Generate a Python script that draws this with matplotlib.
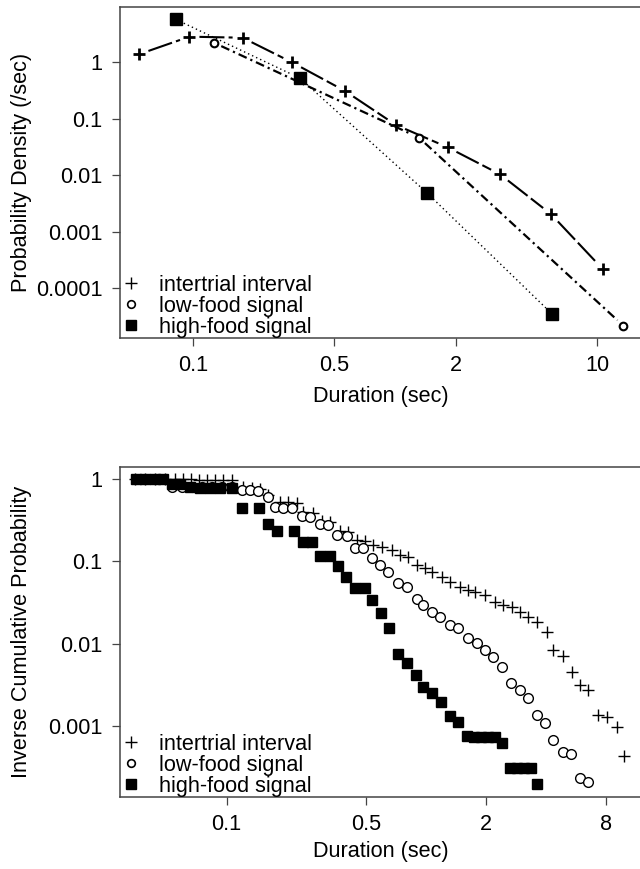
import matplotlib
matplotlib.use("Agg")
import matplotlib.pyplot as plt
from matplotlib.lines import Line2D
from matplotlib.ticker import FixedLocator, FixedFormatter, NullLocator
import numpy as np

plt.rcParams['font.family'] = ['Liberation Sans', 'DejaVu Sans']
FS = 15.6

# ---- top panel: probability density (binned) ----
iti_dur = [0.054, 0.096, 0.176, 0.31, 0.565, 1.01, 1.82, 3.31, 5.92, 10.7]
iti_dens = [1.40, 2.87, 2.75, 1.0, 0.313, 0.078, 0.0314, 0.0104, 0.00204, 0.000215]
low_dur = [0.127, 1.315, 13.5]
low_dens = [2.24, 0.0464, 2.15e-5]
high_dur = [0.082, 0.339, 1.436, 6.01]
high_dens = [5.83, 0.525, 0.00491, 3.43e-5]

# ---- bottom panel: inverse cumulative probability ----
iti_x = [0.0347, 0.0389, 0.0436, 0.0489, 0.0549, 0.0603, 0.0660, 0.0726, 0.0796, 0.0873, 0.0958, 0.1063,
         0.1207, 0.134, 0.147, 0.161, 0.185, 0.203, 0.225, 0.241, 0.271, 0.301, 0.330, 0.370, 0.406,
         0.451, 0.494, 0.542, 0.601, 0.675, 0.741, 0.812, 0.901, 0.989, 1.072, 1.203, 1.320, 1.482,
         1.624, 1.761, 1.976, 2.218, 2.432, 2.703, 2.963, 3.249, 3.603, 4.045, 4.334, 4.864, 5.403,
         5.924, 6.496, 7.290, 8.091, 9.079, 9.86]
iti_y = [1.0, 0.998, 0.996, 0.994, 0.992, 0.99, 0.988, 0.986, 0.984, 0.982, 0.98, 0.978,
         0.800, 0.778, 0.756, 0.640, 0.53, 0.52, 0.512, 0.398, 0.387, 0.310, 0.301, 0.234, 0.228,
         0.182, 0.177, 0.158, 0.150, 0.138, 0.120, 0.113, 0.0907, 0.0834, 0.0746, 0.0649, 0.0565, 0.0491,
         0.0451, 0.0427, 0.0393, 0.0323, 0.0297, 0.0281, 0.0244, 0.0212, 0.0185, 0.0140, 0.00846, 0.00716, 0.00458,
         0.00319, 0.00277, 0.00136, 0.00132, 0.000986, 0.000439]

low_x = [0.0367, 0.0412, 0.0463, 0.0532, 0.0597, 0.067, 0.0752, 0.0843, 0.0946, 0.1063,
         0.1193, 0.131, 0.1436, 0.161, 0.1747, 0.1915, 0.2127, 0.2387, 0.2618, 0.294, 0.3223,
         0.3577, 0.4015, 0.4402, 0.4831, 0.5358, 0.5875, 0.6445, 0.7231, 0.8031, 0.9012, 0.966,
         1.072, 1.175, 1.320, 1.448, 1.624, 1.803, 1.976, 2.168, 2.405, 2.672, 2.963, 3.249,
         3.603, 3.954, 4.334, 4.864, 5.341, 5.924, 6.496]
low_y = [0.999, 0.997, 0.995, 0.81, 0.808, 0.806, 0.804, 0.802, 0.80, 0.798,
         0.736, 0.73, 0.715, 0.605, 0.458, 0.45, 0.44, 0.356, 0.35, 0.285, 0.277,
         0.210, 0.204, 0.146, 0.144, 0.110, 0.0907, 0.0746, 0.0549, 0.0491, 0.0351, 0.0297,
         0.0244, 0.0212, 0.0170, 0.0156, 0.0118, 0.0103, 0.00846, 0.00696, 0.00526, 0.00337, 0.00277, 0.00221,
         0.00138, 0.00110, 0.000686, 0.000491, 0.000465, 0.000238, 0.000212]

high_x = [0.0351, 0.0389, 0.0436, 0.0479, 0.0532, 0.0582, 0.0654, 0.0734, 0.0824, 0.0925, 0.1063,
          0.1193, 0.1452, 0.161, 0.179, 0.218, 0.241, 0.268, 0.294, 0.330, 0.362, 0.397, 0.440,
          0.494, 0.536, 0.594, 0.652, 0.723, 0.803, 0.891, 0.966, 1.072, 1.190, 1.320, 1.448,
          1.606, 1.741, 1.887, 2.046, 2.218, 2.405, 2.640, 2.861, 3.101, 3.362, 3.603]
high_y = [1.0, 0.999, 0.998, 0.997, 0.87, 0.869, 0.789, 0.788, 0.787, 0.786, 0.785,
          0.445, 0.444, 0.285, 0.234, 0.233, 0.172, 0.171, 0.117, 0.116, 0.0884, 0.0649, 0.0477,
          0.0476, 0.0341, 0.0238, 0.0156, 0.00758, 0.00589, 0.00421, 0.00302, 0.00256, 0.00200, 0.00134, 0.00114,
          0.000766, 0.000747, 0.000747, 0.000747, 0.000747, 0.000631, 0.000316, 0.000316, 0.000316, 0.000316, 0.000203]

labels = ["intertrial interval", "low-food signal", "high-food signal"]

W, H = 640, 869
fig = plt.figure(figsize=(W / 100, H / 100), dpi=100)


def add_ax(left, top, right, bottom):
    return fig.add_axes([left / W, 1 - bottom / H, (right - left) / W, (bottom - top) / H])


def style(ax, xlim, ylim, xt, xtl, yt, ytl, ylabel, xlab_y):
    ax.set_xscale('log')
    ax.set_yscale('log')
    ax.set_xlim(*xlim)
    ax.set_ylim(*ylim)
    ax.xaxis.set_major_locator(FixedLocator(xt))
    ax.xaxis.set_major_formatter(FixedFormatter(xtl))
    ax.yaxis.set_major_locator(FixedLocator(yt))
    ax.yaxis.set_major_formatter(FixedFormatter(ytl))
    ax.xaxis.set_minor_locator(NullLocator())
    ax.yaxis.set_minor_locator(NullLocator())
    ax.tick_params(length=5.5, width=0.9, color='#444444', labelsize=FS, pad=7)
    for s in ['left', 'bottom', 'top']:
        ax.spines[s].set_linewidth(1.1)
        ax.spines[s].set_color('#444444')
    ax.spines['right'].set_visible(False)
    ax.set_xlabel("Duration (sec)", fontsize=FS)
    ax.set_ylabel(ylabel, fontsize=FS)
    ax.yaxis.set_label_coords(-0.1686, 0.5)
    ax.xaxis.set_label_coords(0.5, xlab_y)


def gapped(ax, xs, ys, gap, **kw):
    # lines that stop short of the points, as in R type="b"
    pts = ax.transData.transform(np.column_stack([xs, ys]))
    inv = ax.transData.inverted()
    for p0, p1 in zip(pts[:-1], pts[1:]):
        d = p1 - p0
        L = np.hypot(*d)
        if L <= 2 * gap:
            continue
        u = d / L
        seg = inv.transform([p0 + u * gap, p1 - u * gap])
        ax.plot(seg[:, 0], seg[:, 1], color='black', **kw)


def legend(ax):
    h = [Line2D([], [], ls='none', marker='+', ms=9, mew=1.0, color='k'),
         Line2D([], [], ls='none', marker='o', ms=5.5, mfc='white', mec='k', mew=1.2),
         Line2D([], [], ls='none', marker='s', ms=7, color='k')]
    ax.legend(h, labels, loc='lower left', bbox_to_anchor=(0, 0), frameon=False, fontsize=FS,
              handlelength=1.0, handletextpad=0.8, labelspacing=0.0, borderpad=0, borderaxespad=0)


ax1 = add_ax(120, 7, 642, 338)
style(ax1, (0.0435, 16.7), (1.30e-5, 9.64), [0.1, 0.5, 2, 10], ["0.1", "0.5", "2", "10"],
      [1, 0.1, 0.01, 0.001, 0.0001], ["1", "0.1", "0.01", "0.001", "0.0001"],
      "Probability Density (/sec)", -0.145)

gapped(ax1, iti_dur, iti_dens, 10, lw=1.5, dashes=(12, 2))
gapped(ax1, low_dur, low_dens, 8, lw=1.6, dashes=(4, 1.8, 1, 1.8))
gapped(ax1, high_dur, high_dens, 9, lw=1.0, dashes=(1, 2.2))
ax1.plot(iti_dur, iti_dens, ls='none', marker='+', ms=8.5, mew=2.0, color='k')
ax1.plot(low_dur, low_dens, ls='none', marker='o', ms=5.5, mfc='white', mec='k', mew=1.5)
ax1.plot(high_dur, high_dens, ls='none', marker='s', ms=8.5, color='k')
legend(ax1)

ax2 = add_ax(120, 467, 642, 797)
style(ax2, (0.0292, 12.13), (1.397e-4, 1.398), [0.1, 0.5, 2, 8], ["0.1", "0.5", "2", "8"],
      [1, 0.1, 0.01, 0.001], ["1", "0.1", "0.01", "0.001"],
      "Inverse Cumulative Probability", -0.133)

ax2.plot(iti_x, iti_y, ls='none', marker='+', ms=8.5, mew=1.0, color='k')
ax2.plot(low_x, low_y, ls='none', marker='o', ms=7, mfc='white', mec='k', mew=1.0)
ax2.plot(high_x, high_y, ls='none', marker='s', ms=7.5, color='k')
legend(ax2)

fig.savefig("out.png", dpi=100)
